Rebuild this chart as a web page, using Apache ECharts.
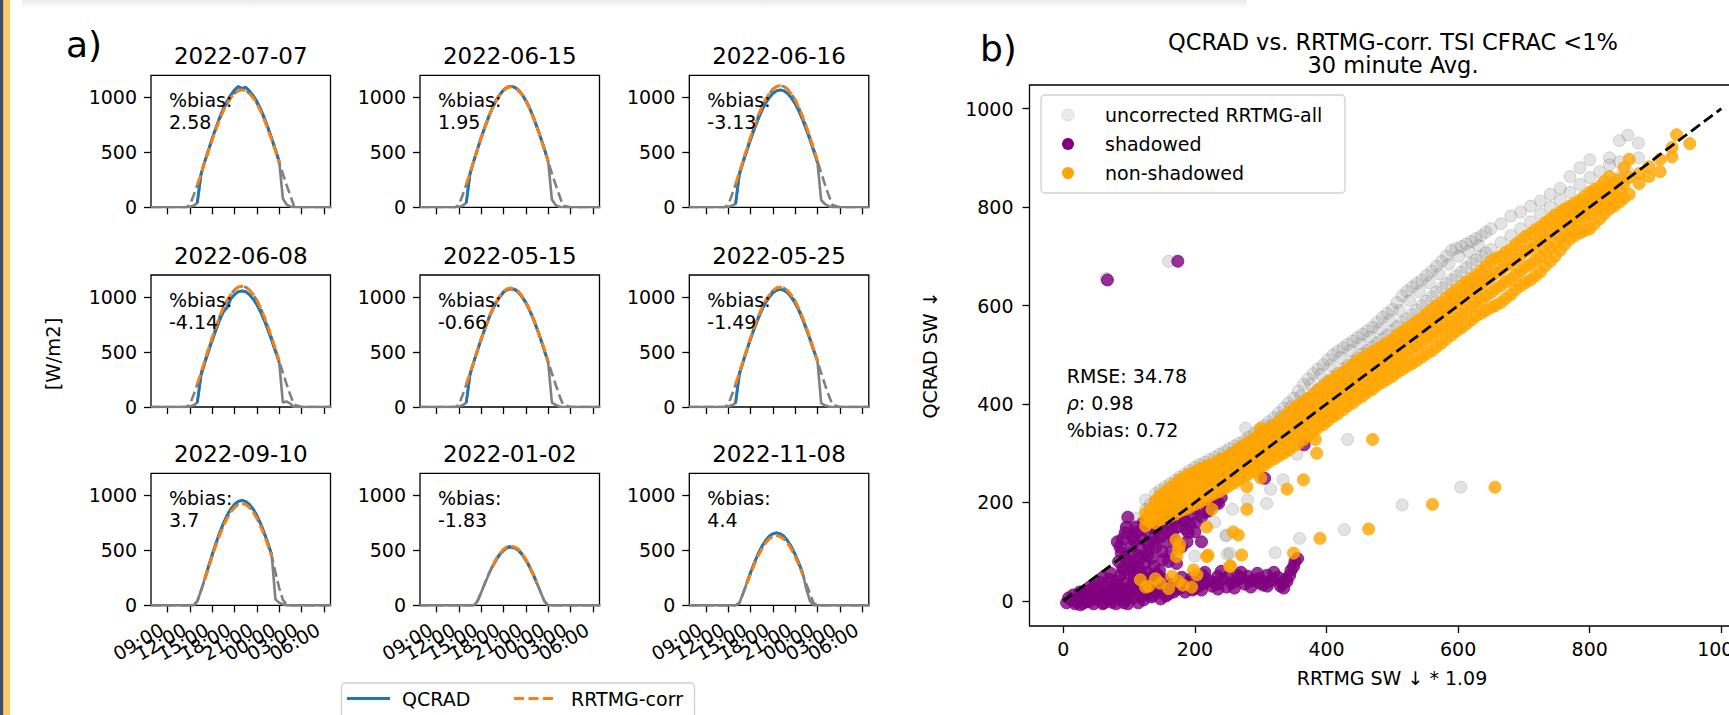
<!DOCTYPE html>
<html><head><meta charset="utf-8">
<script src="https://cdn.jsdelivr.net/npm/echarts@6/dist/echarts.min.js"></script>
<style>html,body{margin:0;padding:0;background:#fff;overflow:hidden}#c{width:1729px;height:715px}</style>
</head><body><div id="c"></div>
<script>
// ---------------- DATA ----------------
const hours = [6.75,8,9,10,11,11.5,12,12.5,13,13.5,14,14.5,15,15.5,16,16.5,17,17.5,18,18.5,19,19.5,20,20.5,21,21.5,22,22.5,23,23.5,24,24.5,25,25.5,26,27,28,29,30,31];
const timeTicks = [9,12,15,18,21,24,27,30];
const panelDates = ['2022-07-07','2022-06-15','2022-06-16','2022-06-08','2022-05-15','2022-05-25','2022-09-10','2022-01-02','2022-11-08'];
const panelBias = ['2.58','1.95','-3.13','-4.14','-0.66','-1.49','3.7','-1.83','4.4'];
const windowStart = [13,13,13,13,13,13,14,16.5,14.5];
const windowEnd = [24,24,24,24,24,24,23,22.5,22];

const qcrad0707 = [0,0,0,0,0,0,5,15,40,300,415,520,625,722,815,895,965,1020,1065,1098,1080,1092,1058,1015,963,895,815,723,627,523,420,80,25,8,0,0,0,0,0,0];
const rrtmg0707 = [0,0,0,0,0,0,20,107,202,303,408,513,614,709,798,877,944,995,1036,1060,1068,1060,1036,995,944,877,798,709,614,513,408,303,202,107,10,0,0,0,0,0];
const qcrad0615 = [0,0,0,0,0,0,5,15,40,305,420,528,633,730,822,903,972,1025,1067,1092,1100,1092,1067,1025,972,903,822,730,633,528,420,70,20,5,0,0,0,0,0,0];
const rrtmg0615 = [0,0,0,0,0,0,22,110,207,311,418,525,630,727,818,899,967,1020,1062,1087,1095,1087,1062,1020,967,899,818,727,630,525,418,311,207,110,15,0,0,0,0,0];
const qcrad0616 = [0,0,0,0,0,0,5,15,30,295,408,512,614,708,797,876,943,994,1035,1059,1067,1059,1035,994,943,876,797,708,614,512,408,66,30,10,0,0,0,0,0,0];
const rrtmg0616 = [0,0,0,0,0,0,22,111,209,314,422,531,636,734,826,908,978,1031,1073,1098,1106,1098,1073,1031,978,908,826,734,636,531,422,314,209,111,22,0,0,0,0,0];
const qcrad0608 = [0,0,0,0,0,0,5,15,40,290,400,505,605,700,790,866,905,983,1022,1048,1055,1048,1022,982,932,866,788,700,607,506,410,40,50,30,0,0,0,0,0,0];
const rrtmg0608 = [0,0,0,0,0,0,22,110,208,312,419,527,631,729,821,901,971,1023,1065,1090,1098,1090,1065,1023,971,901,821,729,631,527,419,312,208,110,22,0,0,0,0,0];
const qcrad0515 = [0,0,0,0,0,0,5,15,40,295,408,512,615,712,800,880,948,1000,1043,1067,1075,1067,1043,1000,948,880,800,712,615,512,408,40,20,5,0,0,0,0,0,0];
const rrtmg0515 = [0,0,0,0,0,0,20,108,205,307,413,519,622,718,808,888,956,1008,1050,1074,1082,1074,1050,1008,956,888,808,718,622,519,413,307,205,108,20,0,0,0,0,0];
const qcrad0525 = [0,0,0,0,0,0,5,15,36,295,408,513,615,710,799,878,945,996,1037,1061,1069,1061,1037,996,945,878,799,710,615,513,420,36,15,5,0,0,0,0,0,0];
const rrtmg0525 = [0,0,0,0,0,0,22,109,206,310,416,523,627,724,814,895,964,1016,1057,1082,1090,1082,1057,1016,964,895,814,724,627,523,416,310,206,109,22,0,0,0,0,0];
const qcrad0910 = [0,0,0,0,0,0,0,0,38,135,242,352,460,564,659,744,818,876,919,945,954,945,919,876,818,744,659,564,460,55,25,10,0,0,0,0,0,0,0,0];
const rrtmg0910 = [0,0,0,0,0,0,0,0,37,131,235,341,446,547,639,722,793,849,891,917,925,917,891,849,793,722,639,547,446,300,160,50,10,0,0,0,0,0,0,0];
const qcrad0102 = [0,0,0,0,0,0,0,0,0,0,0,37,118,200,279,350,412,463,500,523,530,523,500,463,412,350,279,200,118,37,0,0,0,0,0,0,0,0,0,0];
const rrtmg0102 = [0,0,0,0,0,0,0,0,0,0,0,38,120,204,285,357,420,471,510,532,540,532,510,471,420,357,285,204,120,38,0,0,0,0,0,0,0,0,0,0];
const qcrad1108 = [0,0,0,0,0,0,0,0,0,21,110,203,297,384,463,532,586,628,651,660,651,628,586,532,463,384,297,150,40,0,0,0,0,0,0,0,0,0,0,0];
const rrtmg1108 = [0,0,0,0,0,0,0,0,0,20,105,196,286,370,446,512,564,604,626,635,626,604,564,512,446,370,286,196,105,20,0,0,0,0,0,0,0,0,0,0];

const qcradSeries = [qcrad0707,qcrad0615,qcrad0616,qcrad0608,qcrad0515,qcrad0525,qcrad0910,qcrad0102,qcrad1108];
const rrtmgSeries = [rrtmg0707,rrtmg0615,rrtmg0616,rrtmg0608,rrtmg0515,rrtmg0525,rrtmg0910,rrtmg0102,rrtmg1108];

// scatter: bands given as [x, y1, y2, ...]
const orangeBand = [
[125,152,165,178],[140,158,175,190,204],[155,168,186,204,222],[170,176,196,218,238],[185,186,206,230,252],
[200,196,216,240,262],[215,206,228,250,272],[230,218,240,262,280],[245,228,250,272,290],[260,240,262,284,302],
[275,252,274,296,316],[290,263,286,308,330],[305,275,298,320,344],[320,288,310,334,356],[335,300,324,348,372],
[350,314,338,364,390],[365,328,352,378,404],[380,344,368,394,420],[395,358,382,408,436],[410,374,396,424,450],
[425,388,412,438,464],[440,402,426,452,480],[455,416,440,468,494],[470,430,454,482,506],[485,444,468,494,518],
[500,456,482,508,530],[515,470,496,522,546],[530,482,510,536,560],[545,495,524,550,574],[560,508,538,566,592],
[575,524,552,580,606],[590,540,566,596,624],[605,555,582,612,640],[620,570,598,626,654],[635,584,612,642,670],
[650,596,626,658,690],[665,606,640,672,700],[680,622,654,686,714],[695,640,670,702,732],[710,652,684,716,746],
[725,668,700,732,760],[740,690,718,748,776],[755,712,738,766,790],[770,735,758,782,802],[785,748,772,796,814],
[800,756,786,810,830],[815,776,800,824,842],[830,796,818,840,862],[845,810,834,856],[860,826,860,897],
[875,848,868],[890,862,882],[907,872,897],[925,902,921],[932,947],[952,929]];
const orangeBand2 = [
[132,160,172,186],[147,165,182,198,214],[162,172,192,212,230],[177,182,202,224,246],[192,190,212,236,258],
[207,200,222,246,268],[222,212,234,256,276],[237,222,245,268,286],[252,234,256,278,296],[267,246,268,290,310],
[282,258,280,302,324],[297,270,292,314,338],[312,282,304,328,350],[327,294,318,342,364],[342,306,330,356,382],
[357,320,346,372,398],[372,336,360,386,412],[387,352,376,402,428],[402,366,390,416,444],[417,380,404,432,458],
[432,396,420,446,472],[447,410,434,460,488],[462,424,448,476,500],[477,438,462,488,512],[492,450,476,502,524],
[507,464,490,516,540],[522,476,504,530,554],[537,488,518,544,568],[552,502,532,558,584],[567,516,546,574,600],
[582,532,560,588,616],[597,548,574,604,632],[612,562,590,620,648],[627,578,606,634,662],[642,590,620,650,680],
[657,600,634,666,696],[672,614,648,680,708],[687,632,662,694,724],[702,646,678,710,740],[717,660,692,724,754],
[732,680,710,740,768],[747,700,728,758,784],[762,724,748,774,796],[777,742,766,790,808],[792,752,780,804,822],
[807,766,794,818,836],[822,786,808,832,852],[837,802,826,848],[852,818,846,880]];
const orangeExtra = [[117,43],[130,30],[147,36],[160,25],[175,40],[182,32],[195,28],[203,53],[198,63],[165,50],[140,45],[125,28],
[172,90],[177,114],[171,124],[175,104],[218,90],[220,93],[253,70],[266,134],[271,93],[279,186],[279,232],[226,186],[218,150],
[300,351],[383,328],[385,300],[365,246],[340,227],[350,97],[390,127],[464,146],[470,328],[561,196],[656,231],[254,71],[258,140],[300,250]];
const grayBand = [
[95,128,148],[110,146,168],[125,162,186,205],[140,176,200,218],[155,190,214,232],[170,202,226,245],[185,214,238,258],
[200,226,250,272],[215,238,262,282],[230,250,274,292],[245,262,285,303],[260,274,297,315],[275,286,309,326],
[290,298,321,340],[305,310,334,356],[320,324,348,372],[335,338,364,392],[350,356,384,412],[365,370,400,440],
[380,388,420,462],[395,404,438,480],[410,420,455,500],[425,436,470,514],[440,450,486,528],[455,466,502,542],
[470,480,516,556],[485,496,532,576],[500,510,548,592],[515,526,566,620],[530,540,582,638],[545,556,600,652],
[560,572,618,670],[575,588,636,690],[590,604,652,712],[605,620,668,720],[620,636,686,730],[635,650,700,742],
[650,666,714,756],[665,680,728,766],[680,695,742,782],[695,710,756,790],[710,726,770,802],[725,740,786,812],
[740,756,800,826],[755,770,814,838],[770,786,830,862],[785,800,846,880],[800,816,860,896],[815,830,872],
[830,846,886,900],[845,860,892,935],[858,872,946],[874,900,930]];
const grayBand2 = [
[132,170,196],[147,184,208,225],[162,196,220,238],[177,208,232,252],[192,220,244,265],[207,232,256,277],
[222,244,268,287],[237,256,280,298],[252,268,291,309],[267,280,303,320],[282,292,315,333],[297,304,328,348],
[312,317,341,364],[327,331,356,382],[342,347,374,402],[357,363,392,426],[372,379,410,451],[387,396,429,471],
[402,412,446,490],[417,428,462,507],[432,443,478,521],[447,458,494,535],[462,473,509,549],[477,488,524,566],
[492,503,540,584],[507,518,557,606],[522,533,573,629],[537,548,591,645],[552,564,609,661],[567,580,627,680],
[582,596,644,700],[597,612,660,716],[612,628,677,725],[627,643,693,736],[642,658,707,749]];
const grayBand3 = [
[211,240,262],[226,252,276],[241,264,288],[256,276,300],[271,288,312],[286,300,325],[301,312,340],[316,326,356],
[331,342,374],[346,360,394],[361,376,416],[376,394,440],[391,410,460],[406,426,478],[421,442,494],[436,456,508],
[451,472,522],[466,488,536],[481,502,552],[496,518,570],[511,534,590],[526,548,610],[541,564,628],[556,580,646],
[571,596,664],[586,612,684],[601,628,700],[616,644,710],[631,660,722]];
const grayExtra = [[160,690],[65,655],[432,328],[355,298],[334,246],[315,227],[257,186],[247,132],[249,95],[200,91],[322,98],
[359,127],[427,145],[515,195],[604,231],[277,351],[248,134],[253,97],[309,198],[300,250],[280,205],[230,160]];
const purplePts = [
[12,2],[20,-2],[28,8],[35,0],[42,14],[50,3],[58,20],[66,6],[74,-3],[80,14],[88,26],[96,4],[104,18],[112,34],[118,10],
[25,18],[40,28],[55,38],[70,44],[86,50],[100,56],[118,58],[30,-5],[62,-4],[92,-4],[48,30],[78,34],[108,42],
[125,22],[138,32],[150,20],[165,34],[178,26],[192,38],[206,30],[220,42],[234,34],[248,28],[262,40],[276,34],[290,42],
[304,32],[318,44],[332,36],[344,52],[350,70],[356,86],[340,40],[310,52],[280,50],[250,48],[226,30],[196,22],[168,18],
[142,16],[130,44],[240,60],[270,58],[330,30],[298,36],[212,52],
[82,120],[88,98],[94,138],[100,80],[104,112],[110,150],[114,92],[120,126],[126,142],[130,104],[136,158],[140,130],
[146,170],[150,150],[156,120],[160,176],[166,140],[170,160],[178,190],[186,146],[190,139],[196,176],[202,160],[206,198],
[214,180],[224,192],[236,198],[114,70],[124,76],[134,86],[146,62],[92,62],[98,170],[106,130],[84,80],[150,100],[160,80],
[140,108],[67,652],[174,690],[366,317],[306,249],[240,210],[232,198],
[5,-4],[8,6],[15,12],[18,-6],[22,4],[26,-8],[32,14],[38,-2],[38,20],[44,6],[46,-6],[52,22],[54,10],[60,-6],[62,14],
[64,30],[68,20],[72,4],[76,24],[80,-6],[82,40],[84,8],[90,14],[92,36],[96,22],[98,-6],[102,30],[106,6],[108,50],
[110,20],[114,-4],[116,46],[120,30],[122,2],[126,12],[128,58],[134,8],[134,48],[142,54],[148,4],[152,44],[156,10],
[60,48],[72,56],[90,66],[106,72],
[130,20],[144,26],[158,30],[172,24],[186,32],[200,26],[214,36],[228,38],[242,44],[256,36],[270,46],[284,40],[298,46],
[312,38],[326,48],[338,44],[346,62],[352,80],[135,12],[160,14],[185,18],[210,22],[235,24],[260,26],[285,28],[310,30],
[335,26],[120,50],[145,50],[195,46],[215,58],[235,50],[265,52],[295,56],[320,58],[180,48],
[86,110],[90,126],[96,150],[102,96],[108,122],[112,140],[118,106],[122,160],[128,118],[132,150],[138,120],[142,146],
[148,130],[152,164],[158,140],[162,158],[168,126],[174,150],[180,172],[184,164],[192,156],[198,188],[210,170],[220,182],
[94,88],[104,68],[118,88],[128,92],[138,70],[152,84],[164,100],[172,76],[180,110],[200,140],[210,120],[188,120]];
const scatterTicks = [0,200,400,600,800,1000];
const statLines = ['RMSE: 34.78', '0.98', '%bias: 0.72'];

// ---------------- LAYOUT ----------------
const FONT = '"DejaVu Sans", sans-serif';
const colL = [151, 420, 689.3];
const rowT = [75.3, 275, 473.4];
const PW = 179.5, PH = 132;
const SG = {left: 1029.5, top: 85, width: 725.4, height: 541};

function flatBand(b){ const out=[]; b.forEach(r=>{ for(let k=1;k<r.length;k++) out.push([r[0], r[k]]); }); return out; }
const grayPts = flatBand(grayBand).concat(flatBand(grayBand2), flatBand(grayBand3), grayExtra);
const orangePts = flatBand(orangeBand).concat(flatBand(orangeBand2), orangeExtra);

const fmtHour = v => String(v % 24).padStart(2,'0') + ':00';
const fmtPlain = v => String(v);
const grids=[], xAxes=[], yAxes=[], series=[], graphics=[];

for (let i=0;i<9;i++){
  const r=Math.floor(i/3), c=i%3;
  grids.push({left:colL[c], top:rowT[r], width:PW, height:PH, show:true, borderColor:'#000', borderWidth:1.3, outerBoundsMode:'none', containLabel:false});
  xAxes.push({gridIndex:i, type:'value', min:6.78, max:30.9, axisLine:{show:false, onZero:false}, splitLine:{show:false},
    axisTick:{show:true, customValues:timeTicks, length:7, lineStyle:{color:'#000', width:1.3}},
    axisLabel:{show:false}});
  yAxes.push({gridIndex:i, type:'value', min:0, max:1200, axisLine:{show:false, onZero:false}, splitLine:{show:false},
    axisTick:{show:true, customValues:[0,500,1000], length:7, lineStyle:{color:'#000', width:1.3}},
    axisLabel:{customValues:[0,500,1000], showMinLabel:true, showMaxLabel:true, formatter:fmtPlain, fontSize:19, fontFamily:FONT, color:'#000', margin:14}});
  const q=qcradSeries[i], m=rrtmgSeries[i];
  const full = arr => hours.map((h,k)=>[h, arr[k]]);
  const win = arr => hours.map((h,k)=>[h, arr[k]]).filter(p=>p[0]>=windowStart[i] && p[0]<=windowEnd[i]);
  const base = {type:'line', xAxisIndex:i, yAxisIndex:i, showSymbol:false, symbol:'none', silent:true, clip:true, animation:false};
  series.push(Object.assign({}, base, {name:'QCRAD-all', data:full(q), lineStyle:{color:'#808080', width:2.6}, z:1}));
  series.push(Object.assign({}, base, {name:'RRTMG-all', data:full(m), lineStyle:{color:'#808080', width:2.6, type:[10,4.5]}, z:1}));
  series.push(Object.assign({}, base, {name:'QCRAD', data:win(q), lineStyle:{color:'#1f77b4', width:2.9}, z:2}));
  series.push(Object.assign({}, base, {name:'RRTMG-corr', data:win(m), lineStyle:{color:'#ff7f0e', width:2.9, type:[10,4.5]}, z:3}));
  const cx = colL[c] + PW/2;
  graphics.push({type:'text', x:cx, y:rowT[r]-19.5, style:{text:panelDates[i], font:'23px '+FONT, fill:'#000', textAlign:'center', textVerticalAlign:'middle'}});
  graphics.push({type:'text', x:colL[c]+18, y:rowT[r]+35.5, style:{text:'%bias:\n'+panelBias[i], font:'19px '+FONT, lineHeight:22, fill:'#000', textAlign:'left', textVerticalAlign:'middle'}, z:10});
}

// scatter grid
grids.push({left:SG.left, top:SG.top, width:SG.width, height:SG.height, show:true, borderColor:'#000', borderWidth:1.3, outerBoundsMode:'none', containLabel:false});
xAxes.push({gridIndex:9, type:'value', min:-51.4, max:1051, axisLine:{show:false, onZero:false}, splitLine:{show:false},
  axisTick:{show:true, customValues:scatterTicks, length:7, lineStyle:{color:'#000', width:1.3}},
  axisLabel:{customValues:scatterTicks, showMinLabel:true, showMaxLabel:true, formatter:fmtPlain, fontSize:19, fontFamily:FONT, color:'#000', margin:13}});
yAxes.push({gridIndex:9, type:'value', min:-51, max:1048, axisLine:{show:false, onZero:false}, splitLine:{show:false},
  axisTick:{show:true, customValues:scatterTicks, length:7, lineStyle:{color:'#000', width:1.3}},
  axisLabel:{customValues:scatterTicks, showMinLabel:true, showMaxLabel:true, formatter:fmtPlain, fontSize:19, fontFamily:FONT, color:'#000', margin:16}});
series.push({type:'scatter', name:'uncorrected RRTMG-all', xAxisIndex:9, yAxisIndex:9, data:grayPts, symbolSize:12, silent:true, animation:false,
  itemStyle:{color:'rgba(128,128,128,0.28)', borderColor:'rgba(110,110,110,0.3)', borderWidth:1}, z:2});
series.push({type:'scatter', name:'shadowed', xAxisIndex:9, yAxisIndex:9, data:purplePts, symbolSize:12, silent:true, animation:false,
  itemStyle:{color:'#800080', borderColor:'#800080', borderWidth:1}, z:3});
series.push({type:'scatter', name:'non-shadowed', xAxisIndex:9, yAxisIndex:9, data:orangePts, symbolSize:12, silent:true, animation:false,
  itemStyle:{color:'#ffa500', borderColor:'#ffa500', borderWidth:1}, z:4});
series.push({type:'line', name:'1:1', xAxisIndex:9, yAxisIndex:9, data:[[0,0],[1000,1000]], showSymbol:false, symbol:'none', silent:true, animation:false,
  lineStyle:{color:'#000', width:2.8, type:[11,5]}, z:5});

// page decorations
graphics.push({type:'rect', shape:{x:0,y:0,width:3.5,height:715}, style:{fill:'#3e4e6c'}, z:20});
graphics.push({type:'rect', shape:{x:3.5,y:0,width:6.5,height:715}, style:{fill:'#ffcb6b'}, z:20});
graphics.push({type:'rect', shape:{x:22,y:0,width:1225,height:7}, style:{fill:new echarts.graphic.LinearGradient(0,0,0,1,[{offset:0,color:'#ebebeb'},{offset:1,color:'#fbfbfb'}])}, z:20});

// panel labels
graphics.push({type:'text', x:66, y:44, style:{text:'a)', font:'36px '+FONT, fill:'#000', textAlign:'left', textVerticalAlign:'middle'}});
graphics.push({type:'text', x:980, y:48, style:{text:'b)', font:'36px '+FONT, fill:'#000', textAlign:'left', textVerticalAlign:'middle'}});
graphics.push({type:'text', x:53, y:354, rotation:Math.PI/2, style:{text:'[W/m2]', font:'19.5px '+FONT, fill:'#000', textAlign:'center', textVerticalAlign:'middle'}});

// bottom legend
graphics.push({type:'rect', shape:{x:341.5,y:683,width:353,height:45,r:4}, style:{fill:'rgba(255,255,255,0.8)', stroke:'#d0d0d0', lineWidth:1.3}});
graphics.push({type:'line', shape:{x1:347,y1:698.5,x2:390,y2:698.5}, style:{stroke:'#1f77b4', lineWidth:2.9}});
graphics.push({type:'text', x:402, y:698.5, style:{text:'QCRAD', font:'19px '+FONT, fill:'#000', textAlign:'left', textVerticalAlign:'middle'}});
graphics.push({type:'line', shape:{x1:514,y1:698.5,x2:556,y2:698.5}, style:{stroke:'#ff7f0e', lineWidth:2.9, lineDash:[10,4.5]}});
graphics.push({type:'text', x:571, y:698.5, style:{text:'RRTMG-corr', font:'19px '+FONT, fill:'#000', textAlign:'left', textVerticalAlign:'middle'}});

// scatter title & labels
graphics.push({type:'text', x:1393, y:53, style:{text:'QCRAD vs. RRTMG-corr. TSI CFRAC <1%\n30 minute Avg.', font:'22.5px '+FONT, lineHeight:23, fill:'#000', textAlign:'center', textVerticalAlign:'middle'}});
graphics.push({type:'text', x:1392, y:678, style:{text:'RRTMG SW \u2193 * 1.09', font:'19px '+FONT, fill:'#000', textAlign:'center', textVerticalAlign:'middle'}});
graphics.push({type:'text', x:930, y:355, rotation:Math.PI/2, style:{text:'QCRAD SW \u2193', font:'19px '+FONT, fill:'#000', textAlign:'center', textVerticalAlign:'middle'}});
graphics.push({type:'text', x:1066.7, y:376, style:{text:statLines[0], font:'19px '+FONT, fill:'#000', textAlign:'left', textVerticalAlign:'middle'}, z:10});
graphics.push({type:'text', x:1066.7, y:403, style:{text:'{r|\u03c1}{n|: '+statLines[1]+'}', rich:{r:{font:'italic 19px '+FONT, fill:'#000'}, n:{font:'19px '+FONT, fill:'#000'}}, textAlign:'left', textVerticalAlign:'middle'}, z:10});
graphics.push({type:'text', x:1066.7, y:430, style:{text:statLines[2], font:'19px '+FONT, fill:'#000', textAlign:'left', textVerticalAlign:'middle'}, z:10});

// scatter legend
graphics.push({type:'rect', shape:{x:1041,y:95,width:304,height:98,r:4}, style:{fill:'rgba(255,255,255,0.8)', stroke:'#d0d0d0', lineWidth:1.3}, z:10});
graphics.push({type:'circle', shape:{cx:1068,cy:115,r:6}, style:{fill:'rgba(128,128,128,0.16)', stroke:'rgba(128,128,128,0.2)', lineWidth:1}, z:11});
graphics.push({type:'circle', shape:{cx:1068,cy:144,r:6}, style:{fill:'#800080'}, z:11});
graphics.push({type:'circle', shape:{cx:1068,cy:173,r:6}, style:{fill:'#ffa500'}, z:11});
graphics.push({type:'text', x:1105, y:115, style:{text:'uncorrected RRTMG-all', font:'19px '+FONT, fill:'#000', textAlign:'left', textVerticalAlign:'middle'}, z:11});
graphics.push({type:'text', x:1105, y:144, style:{text:'shadowed', font:'19px '+FONT, fill:'#000', textAlign:'left', textVerticalAlign:'middle'}, z:11});
graphics.push({type:'text', x:1105, y:173, style:{text:'non-shadowed', font:'19px '+FONT, fill:'#000', textAlign:'left', textVerticalAlign:'middle'}, z:11});

const chart = echarts.init(document.getElementById('c'), null, {renderer:'svg', width:1729, height:715});
chart.setOption({animation:false, backgroundColor:'#fff', grid:grids, xAxis:xAxes, yAxis:yAxes, series:series});

// rotated time tick labels on bottom row, placed through each panel's own scale
for (let i=6;i<9;i++){
  timeTicks.forEach(h=>{
    const p = chart.convertToPixel({xAxisIndex:i, yAxisIndex:i}, [h, 0]);
    graphics.push({type:'text', x:p[0]-5.5, y:p[1]+22.5, rotation:Math.PI/6,
      style:{text:fmtHour(h), font:'19px '+FONT, fill:'#000', textAlign:'right', textVerticalAlign:'middle'}});
  });
}
chart.setOption({graphic:{elements:graphics}});
</script></body></html>
